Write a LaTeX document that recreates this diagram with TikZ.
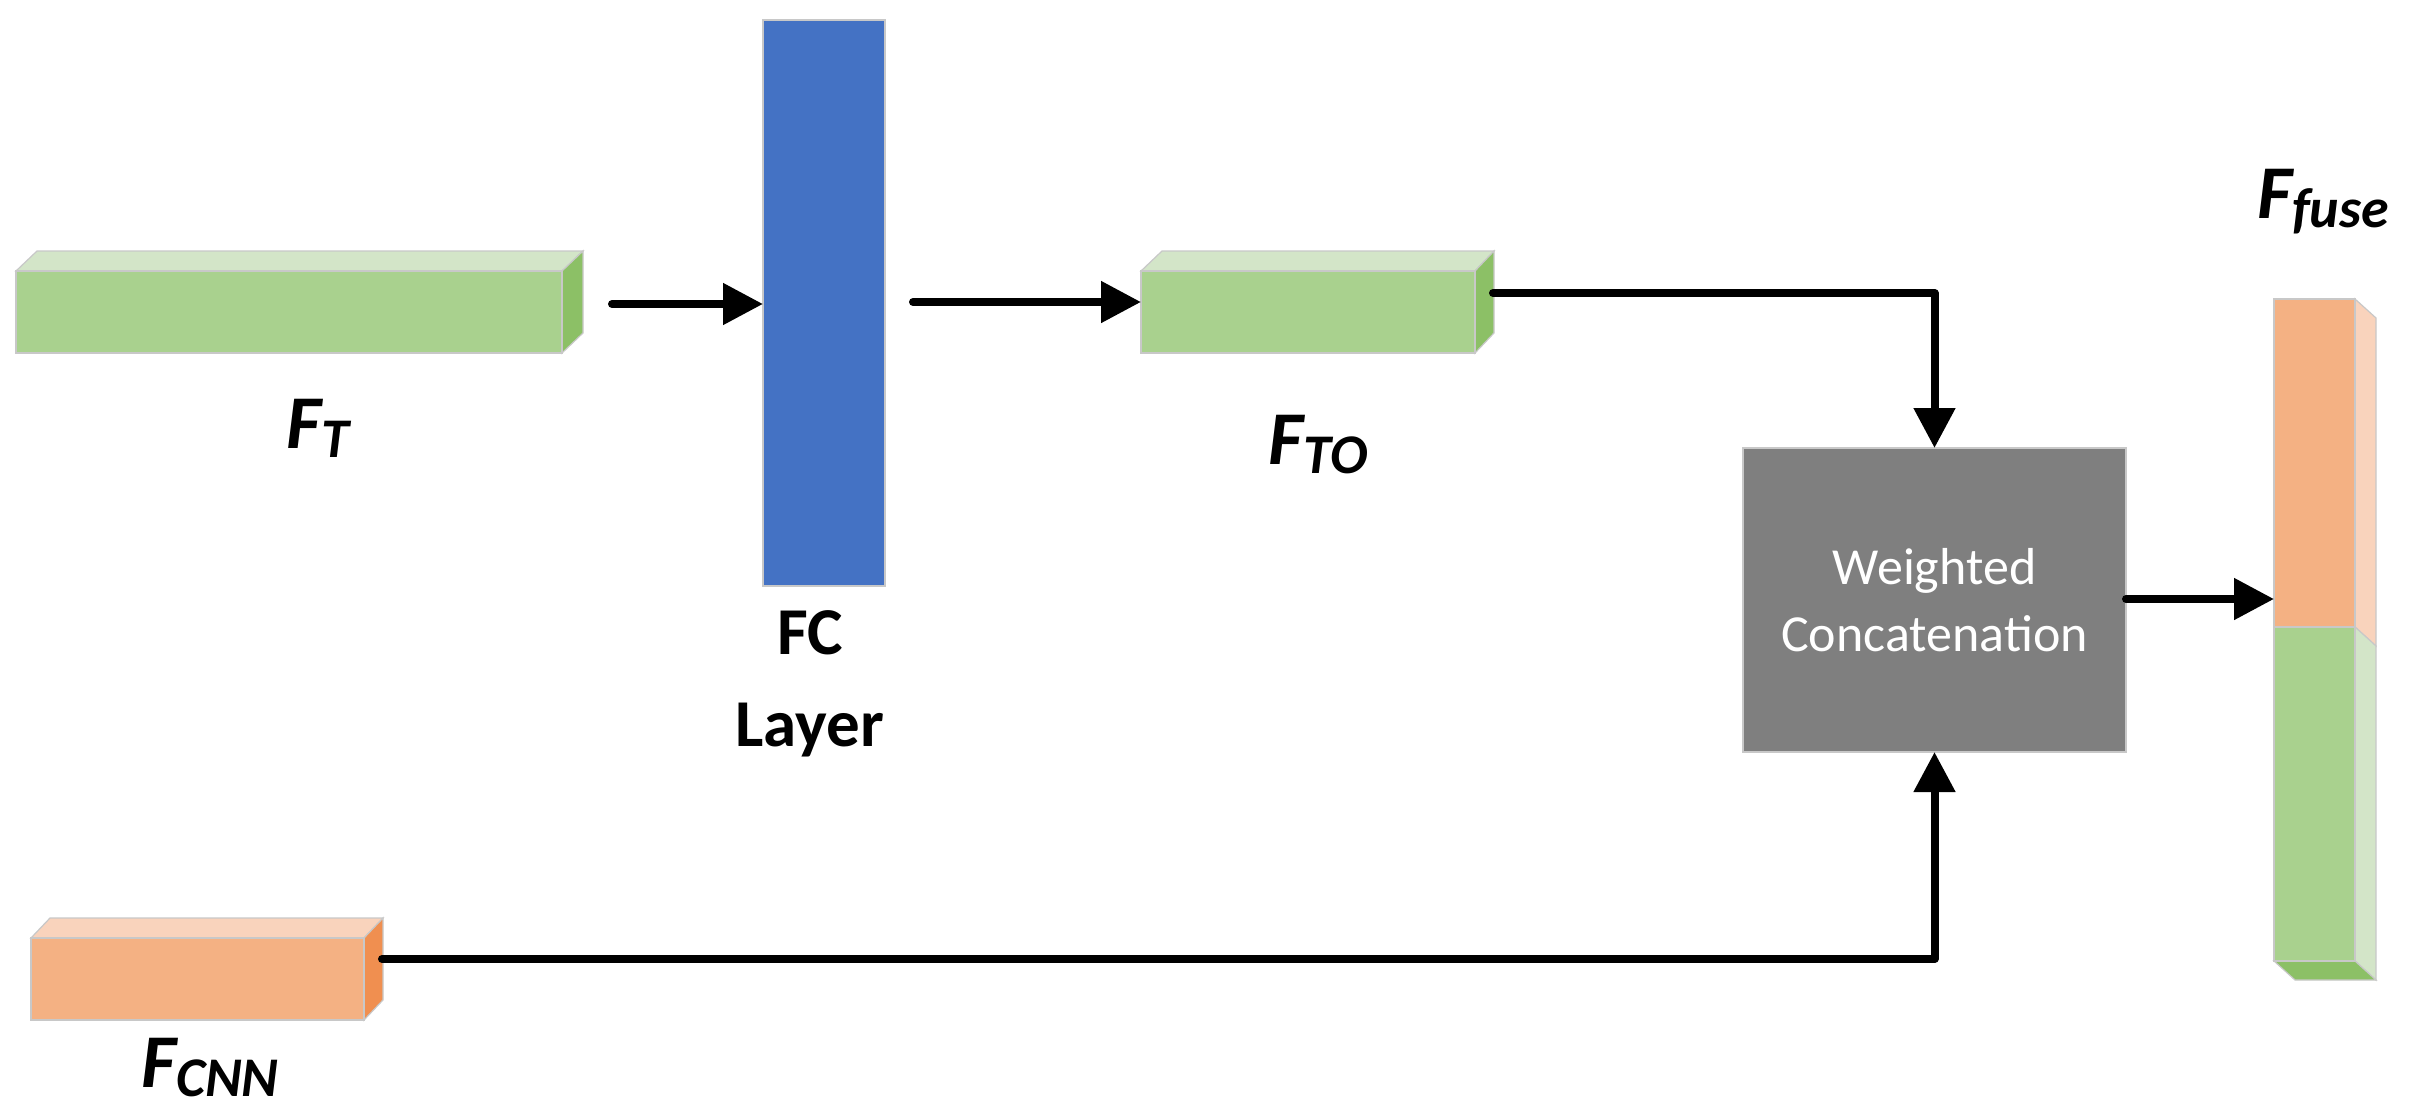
\documentclass[tikz,border=0pt]{standalone}
\usepackage{fontspec}
\setmainfont{Carlito}
\usetikzlibrary{arrows.meta}
\definecolor{gfront}{HTML}{A9D18E}
\definecolor{gtop}{HTML}{D3E5C8}
\definecolor{gside}{HTML}{8CC066}
\definecolor{ofront}{HTML}{F4B183}
\definecolor{otop}{HTML}{F9D3BC}
\definecolor{oside}{HTML}{F08F50}
\definecolor{fcblue}{HTML}{4472C4}
\definecolor{wgray}{HTML}{7F7F7F}
\definecolor{edge}{HTML}{C8C8C8}
\newcommand{\mysub}[1]{\raisebox{-9pt}{\fontsize{56}{60}\selectfont #1}}
\tikzset{
  front/.style={draw=edge, line width=1.2pt, inner sep=0pt, outer sep=0pt, minimum width=#1},
  face/.style={draw=edge, line width=1.2pt},
  conn/.style={line width=8pt, line cap=round, line join=round, -{Triangle[length=40pt,width=40pt]}},
  lbl/.style={font=\bfseries\itshape\fontsize{76}{90}\selectfont},
}
\begin{document}
\begin{tikzpicture}[x=1pt,y=-1pt]
\useasboundingbox (0,0) rectangle (2409,1119);
% F_T
\fill[gtop, face] (16,271) -- (37,251) -- (583,251) -- (562,271) -- cycle;
\fill[gside, face] (562,271) -- (583,251) -- (583,333) -- (562,353) -- cycle;
\node[front=546pt, minimum height=82pt, fill=gfront] (ft) at (289,312) {};
\node[lbl] (ftl) at (318,428) {F\mysub{T}};
% FC
\node[front=122pt, minimum height=566pt, fill=fcblue] (fc) at (824,303) {};
\node[font=\bfseries\fontsize{67}{92}\selectfont, align=center] (fcl) at (810,684) {FC\\Layer};
% F_TO
\fill[gtop, face] (1141,271) -- (1162,251) -- (1494,251) -- (1475,271) -- cycle;
\fill[gside, face] (1475,271) -- (1494,251) -- (1494,333) -- (1475,353) -- cycle;
\node[front=334pt, minimum height=82pt, fill=gfront] (fto) at (1308,312) {};
\coordinate (ftoout) at (1493,293);
\node[lbl] (ftol) at (1318,445) {F\mysub{TO}};
% F_CNN
\fill[otop, face] (31,938) -- (50,918) -- (383,918) -- (364,938) -- cycle;
\fill[oside, face] (364,938) -- (383,918) -- (383,1000) -- (364,1020) -- cycle;
\node[front=333pt, minimum height=82pt, fill=ofront] (fcnn) at (197.5,979) {};
\coordinate (fcnnout) at (382,959);
\node[lbl] (fcnnl) at (210,1068) {F\mysub{CNN}};
% Weighted concat
\node[front=383pt, minimum height=304pt, fill=wgray, text=white, align=center,
  font=\fontsize{52}{67}\selectfont] (wc) at (1934.5,600) {Weighted\\Concatenation};
% F_fuse
\fill[otop, face] (2355,299) -- (2376,318) -- (2376,646) -- (2355,627) -- cycle;
\fill[gtop, face] (2355,627) -- (2376,646) -- (2376,980) -- (2355,961) -- cycle;
\fill[gside, face] (2274,961) -- (2355,961) -- (2376,980) -- (2295,980) -- cycle;
\node[front=81pt, minimum height=328pt, fill=ofront] (fo) at (2314.5,463) {};
\node[front=81pt, minimum height=334pt, fill=gfront] (fg) at (2314.5,794) {};
\node[lbl] (ffl) at (2323,202) {F\mysub{fuse}};
% connectors
\draw[conn] (612,304) coordinate (a1) -- (fc.west |- a1);
\draw[conn] (913,302) coordinate (a2) -- (fto.west |- a2);
\draw[conn] (ftoout) -| (wc.north);
\draw[conn] (fcnnout) -| (wc.south);
\draw[conn] (wc.east |- 0,599) coordinate (a3) -- (fo.west |- a3);
\end{tikzpicture}
\end{document}
